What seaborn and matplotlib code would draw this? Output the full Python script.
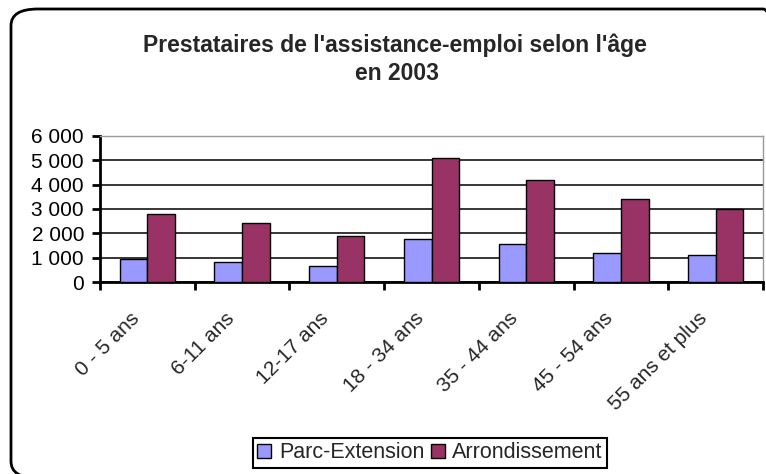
import seaborn as sns
import matplotlib.pyplot as plt
import pandas as pd
from matplotlib.patches import FancyBboxPatch
from matplotlib.ticker import FuncFormatter, FixedLocator
from matplotlib.transforms import ScaledTranslation

# Data
age_groups = ['0 - 5 ans', '6-11 ans', '12-17 ans', '18 - 34 ans',
              '35 - 44 ans', '45 - 54 ans', '55 ans et plus']
parc_extension = [950, 820, 650, 1770, 1570, 1190, 1130]
arrondissement = [2790, 2420, 1870, 5100, 4180, 3420, 3020]
series_names = ['Parc-Extension', 'Arrondissement']

df = pd.DataFrame({
    'age': age_groups * 2,
    'value': parc_extension + arrondissement,
    'serie': [series_names[0]] * len(age_groups) + [series_names[1]] * len(age_groups),
})

sns.set_style("white")
plt.rcParams['font.family'] = ['Liberation Sans', 'DejaVu Sans']

W, H, DPI = 766, 474, 100
fig = plt.figure(figsize=(W / DPI, H / DPI), dpi=DPI, facecolor='white')

# Plot area in pixel coordinates
left, right, top, bottom = 100, 763, 136, 282
ax = fig.add_axes([left / W, 1 - bottom / H, (right - left) / W, (bottom - top) / H])

# Rounded chart frame (partly clipped at right/bottom like the original)
frame = FancyBboxPatch((11 / W, 1 - 478 / H), (790 - 11) / W, (478 - 9) / H,
                       boxstyle="round,pad=0,rounding_size=0.035",
                       transform=fig.transFigure, fill=False,
                       edgecolor='black', linewidth=2, zorder=0)
fig.patches.append(frame)

palette = {series_names[0]: '#9999FF', series_names[1]: '#993366'}
sns.barplot(data=df, x='age', y='value', hue='serie', palette=palette,
            width=0.585, edgecolor='black', linewidth=1, saturation=1,
            ax=ax, zorder=3, legend=True)

ax.set_ylim(0, 6000)
ax.set_xlim(-0.5, len(age_groups) - 0.5)
ax.set_yticks(range(0, 6001, 1000))
ax.yaxis.set_major_formatter(FuncFormatter(lambda v, p: f"{int(v):,}".replace(',', ' ')))
ax.grid(axis='y', color='black', linewidth=1.1, zorder=0)
ax.set_axisbelow(True)

for s in ['top', 'right']:
    ax.spines[s].set_color('#999999')
    ax.spines[s].set_linewidth(1)
for s in ['left', 'bottom']:
    ax.spines[s].set_color('black')
    ax.spines[s].set_linewidth(2)

ax.tick_params(axis='y', direction='out', length=6, width=2, labelsize=15,
               left=True, pad=5.5, colors='black')
ax.tick_params(axis='x', which='major', length=0, labelsize=15, pad=16)
ax.xaxis.set_minor_locator(FixedLocator([i - 0.5 for i in range(len(age_groups) + 1)]))
ax.tick_params(axis='x', which='minor', direction='out', length=6, width=2,
               bottom=True, color='black')

ax.set_xticks(range(len(age_groups)))
ax.set_xticklabels(age_groups, rotation=45, ha='right', va='center',
                   rotation_mode='anchor')
shift = ScaledTranslation(-11 / DPI, -11 / DPI, fig.dpi_scale_trans)
for lbl in ax.get_xticklabels():
    lbl.set_transform(lbl.get_transform() + shift)
ax.set_xlabel('')
ax.set_ylabel('')

fig.text(395 / W, 1 - 45 / H, "Prestataires de l'assistance-emploi selon l'âge",
         ha='center', va='center', fontsize=16.5, fontweight='bold')
fig.text(397 / W, 1 - 74 / H, "en 2003",
         ha='center', va='center', fontsize=16.5, fontweight='bold')

ax.legend(title=None, loc='center', bbox_to_anchor=(430 / W, 1 - 453 / H),
          bbox_transform=fig.transFigure, ncol=2, frameon=True, fontsize=15.5,
          fancybox=False, edgecolor='black', handlelength=0.65,
          handleheight=0.65, handletextpad=0.35, columnspacing=0.3,
          borderpad=0.2, framealpha=1)
ax.get_legend().get_frame().set_linewidth(1.5)

fig.savefig('out.png', dpi=DPI, facecolor='white')
